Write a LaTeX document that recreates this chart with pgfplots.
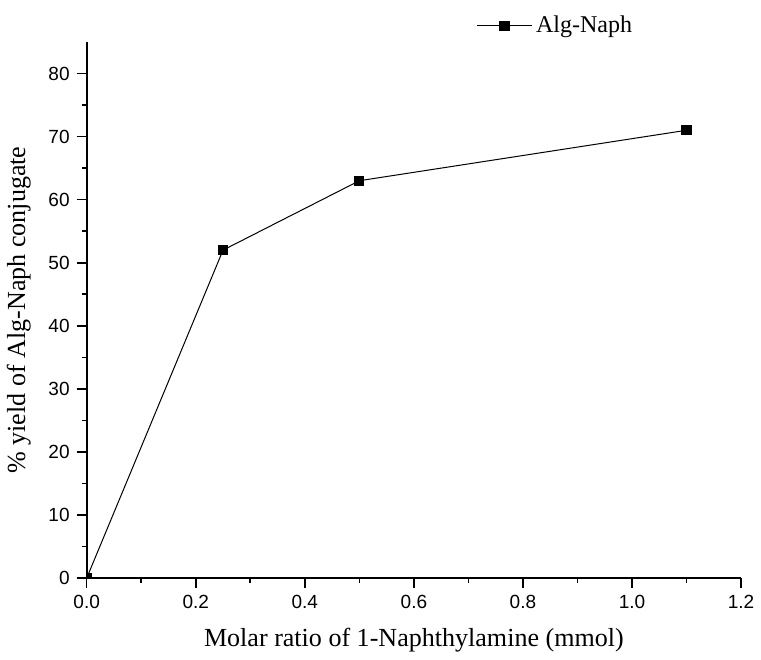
\documentclass[border=0pt]{standalone}
\usepackage{pgfplots}
\pgfplotsset{compat=1.18}
\usepackage{fontspec}
\setmainfont{Liberation Serif}
\newfontfamily\arial{Liberation Sans}

\begin{document}
\begin{tikzpicture}
\begin{axis}[
    scale only axis,
    width=326.5pt, height=267.5pt,
    axis lines=left,
    axis line style={-, line width=1pt},
    xmin=0, xmax=1.2,
    ymin=0, ymax=85,
    xtick={0,0.2,...,1.2},
    ytick={0,10,...,80},
    minor x tick num=1,
    minor y tick num=1,
    tick align=outside,
    major tick length=5pt,
    minor tick length=2.5pt,
    tick style={line width=0.8pt, black},
    x tick label style={/pgf/number format/fixed, /pgf/number format/fixed zerofill, /pgf/number format/precision=1},
    /pgf/number format/assume math mode=true,
    tick label style={font=\arial\fontsize{9.5}{10}\selectfont},
    xlabel={Molar ratio of 1-Naphthylamine (mmol)},
    ylabel={\% yield of Alg-Naph conjugate},
    label style={font=\fontsize{13}{14}\selectfont},
    xlabel style={yshift=-3pt},
    ylabel style={yshift=2pt},
    clip marker paths=true,
    legend style={draw=none, fill=none, at={(rel axis cs:0.718,1.03)}, anchor=center, font=\fontsize{12}{14}\selectfont},
    legend image code/.code={\draw[mark repeat=2, mark phase=2] plot coordinates {(0pt,0pt) (13.5pt,0pt) (27pt,0pt)};},
]
\addplot[black, line width=0.5pt, mark=square*, mark size=2.3pt, mark options={solid}] coordinates {
    (0,0) (0.25,52) (0.5,63) (1.1,71)
};
\addlegendentry{Alg-Naph}
\end{axis}
\path ([yshift=4pt]current bounding box.north);
\end{tikzpicture}
\end{document}
